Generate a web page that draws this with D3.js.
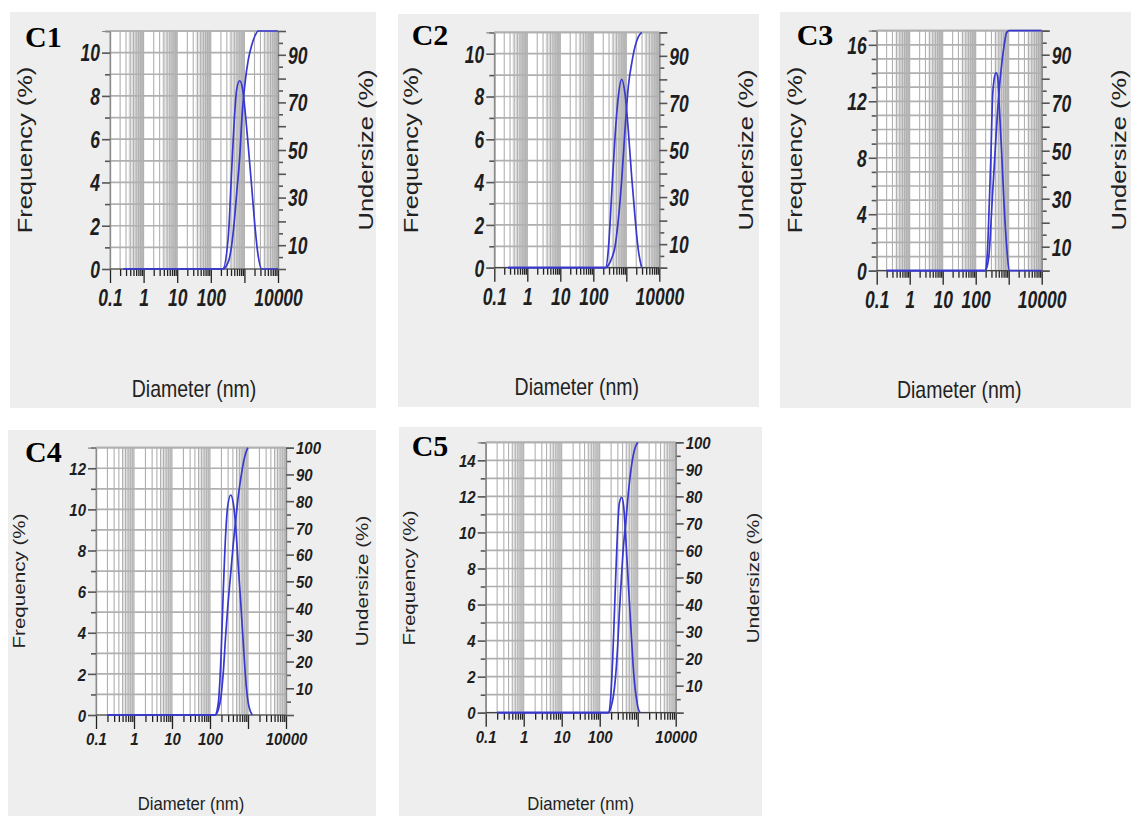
<!DOCTYPE html>
<html><head><meta charset="utf-8">
<script src="https://cdn.jsdelivr.net/npm/d3@7"></script>
<style>body{margin:0;background:#fff;} svg{display:block}</style>
</head><body><svg id="chart" width="1131" height="816"></svg>
<script>
// ---------------- data ----------------
const c1Diam  = [0.25, 226, 332, 419, 500, 590, 725, 866, 1042, 1306, 1649, 2067, 2593, 3273, 10000];
const c1Freq  = [0, 0, 1.5, 4.6, 6.9, 8.3, 8.7, 8.4, 7.35, 5.65, 3.8, 1.95, 0.57, 0, 0];
const c1Under = [0, 0, 3, 10, 20, 32, 47, 66, 78, 88, 94, 98, 100, 100, 100];

const c2Diam  = [0.26, 238, 285, 361, 455, 572, 726, 913, 1150, 1457, 1835, 2310, 2930];
const c2Freq  = [0, 0, 0.83, 3.47, 6.11, 7.98, 8.8, 8.13, 6.42, 4.24, 2.38, 0.83, 0];
const c2Under = [0, 0, 1, 4, 8.9, 20.3, 37.3, 58.5, 76.9, 86.8, 93.9, 98.1, 100];

const c3Diam  = [0.2, 191, 225, 258, 291, 318, 359, 412, 464, 519, 614, 721, 869, 1042, 10000];
const c3Freq  = [0, 0, 1.23, 4.77, 8.31, 11.86, 13.5, 14.02, 13.74, 11.61, 8.31, 4.77, 1.7, 0, 0];
const c3Under = [0, 0, 2, 8, 20, 30, 42, 56, 67, 76, 86, 93.5, 99.3, 100, 100];

const c4Diam  = [0.2, 135, 165, 195, 224, 259, 292, 351, 410, 475, 556, 654, 771, 902, 994, 1062, 1298];
const c4Freq  = [0, 0, 0.57, 2.84, 6.08, 8.84, 10.14, 10.7, 10.3, 9.16, 7.22, 5.27, 3.16, 1.38, 0.7, 0.4, 0];
const c4Under = [0, 0, 2, 7, 16, 30, 40, 53, 64, 73, 82, 89, 95, 98.6, 100, null, null];

const c5Diam  = [0.2, 168, 198, 228, 264, 298, 328, 379, 428, 483, 566, 667, 785, 849, 942, 1000, 1150];
const c5Freq  = [0, 0, 1.08, 3.85, 7.54, 10.32, 11.61, 11.95, 11.43, 9.76, 7.18, 4.59, 2.19, 1.4, 0.7, 0.35, 0];
const c5Under = [0, 0, 2, 5.9, 14, 25, 36.8, 51.6, 62.6, 70, 81.1, 90, 96, 97.8, 99.3, 100, null];

const xTickLabels = [0.1, 1, 10, 100, 10000];
const freqTicks11 = [0, 2, 4, 6, 8, 10];
const freqTicks17 = [0, 4, 8, 12, 16];
const freqTicks13 = [0, 2, 4, 6, 8, 10, 12];
const freqTicks15 = [0, 2, 4, 6, 8, 10, 12, 14];
const underTicksOdd = [10, 30, 50, 70, 90];
const underTicksAll = [10, 20, 30, 40, 50, 60, 70, 80, 90, 100];
const panelNames = ["C1", "C2", "C3", "C4", "C5"];
const xTitle = "Diameter (nm)", yTitle = "Frequency (%)", y2Title = "Undersize (%)";

// ---------------- layout ----------------
const big = {tick:17.5, tsy:1.32, title:19.5, titleSy:1.2, rot:20, rotSx:1.27, band:"gA", bandStart:3.5, xlab:37};
const small = {tick:15, tsy:1.15, title:16.7, titleSy:1.1, rot:16.5, rotSx:1.25, band:"gB", bandStart:5, xlab:30};
const panels = [
  {name:panelNames[0], box:[10,12,366,396], p:{l:110,r:278,t:31,b:269}, fmax:11, fTicks:freqTicks11, uTicks:underTicksOdd,
   diam:c1Diam, freq:c1Freq, under:c1Under, st:big, lab:[25,46.7], fx:32, ux:373, cy:150, dy:396.7},
  {name:panelNames[1], box:[398,14,361,393], p:{l:494.3,r:659.3,t:32.3,b:267.7}, fmax:11, fTicks:freqTicks11, uTicks:underTicksOdd,
   diam:c2Diam, freq:c2Freq, under:c2Under, st:big, lab:[411.7,45], fx:418, ux:753, cy:150, dy:395},
  {name:panelNames[2], box:[780,12,351,396], p:{l:876.7,r:1041.7,t:30.7,b:270.7}, fmax:17, fTicks:freqTicks17, uTicks:underTicksOdd,
   diam:c3Diam, freq:c3Freq, under:c3Under, st:big, lab:[796.7,45], fx:801.5, ux:1126, cy:150, dy:398},
  {name:panelNames[3], box:[8,430,368,386], p:{l:96,r:286,t:447.7,b:715}, fmax:13, fTicks:freqTicks13, uTicks:underTicksAll,
   diam:c4Diam, freq:c4Freq, under:c4Under, st:small, lab:[25,461.7], fx:25, ux:368, cy:581, dy:810},
  {name:panelNames[4], box:[399,427,363,389], p:{l:485.7,r:675.7,t:442.3,b:712.7}, fmax:15, fTicks:freqTicks15, uTicks:underTicksAll,
   diam:c5Diam, freq:c5Freq, under:c5Under, st:small, lab:[411.7,456], fx:415, ux:758.5, cy:578, dy:810}
];

const svg = d3.select("#chart");
svg.append("rect").attr("width",1131).attr("height",816).attr("fill","#fff");
const defs = svg.append("defs");
[["gA","#f0f0f0","#bdbdbd"],["gB","#ececec","#d0d0d0"]].forEach(([id,a,b])=>{
  const g = defs.append("linearGradient").attr("id",id).attr("x1",0).attr("x2",1).attr("y1",0).attr("y2",0);
  g.append("stop").attr("offset","0%").attr("stop-color",a);
  g.append("stop").attr("offset","100%").attr("stop-color",b);
});

const LINE = "#3838cf";
const GRID = "#b0b0b0";
const TICKFONT = "'Liberation Sans', Arial, sans-serif";

panels.forEach(P => {
  const g = svg.append("g");
  const {l,r,t,b} = P.p, st = P.st;
  g.append("rect").attr("x",P.box[0]).attr("y",P.box[1]).attr("width",P.box[2]).attr("height",P.box[3]).attr("fill","#eeeeee");

  const x = d3.scaleLog().domain([0.1,10000]).range([l,r]);
  const yF = d3.scaleLinear().domain([0,P.fmax]).range([b,t]);
  const yU = d3.scaleLinear().domain([0,100]).range([b,t]);

  g.append("rect").attr("x",l).attr("y",t).attr("width",r-l).attr("height",b-t).attr("fill","#fff");
  const decades = [0.1,1,10,100,1000];
  g.selectAll(".band").data(decades).join("rect")
    .attr("x",k=>x(st.bandStart*k)).attr("y",t)
    .attr("width",k=>x(10*k)-x(st.bandStart*k)).attr("height",b-t)
    .attr("fill",`url(#${st.band})`);

  const vgrid = [];
  decades.forEach(k=>{ for(let m=1;m<=9;m++) vgrid.push(m*k); });
  vgrid.push(10000);
  g.selectAll(".vg").data(vgrid).join("line")
    .attr("x1",d=>x(d)).attr("x2",d=>x(d)).attr("y1",t).attr("y2",b)
    .attr("stroke",GRID).attr("stroke-width",1.1);
  g.selectAll(".hg").data(d3.range(0,P.fmax+1)).join("line")
    .attr("x1",l).attr("x2",r).attr("y1",d=>yF(d)).attr("y2",d=>yF(d))
    .attr("stroke",GRID).attr("stroke-width",1.7);

  // x axis ticks
  const majors = [0.1,1,10,100,1000,10000];
  const minors = vgrid.filter(d => !majors.includes(d));
  const xMinor = g.append("g").attr("transform",`translate(0,${b})`)
    .call(d3.axisBottom(x).tickValues(minors).tickSize(7).tickFormat(""));
  const xMajor = g.append("g").attr("transform",`translate(0,${b})`)
    .call(d3.axisBottom(x).tickValues(majors).tickSize(14)
      .tickFormat(d => xTickLabels.includes(d) ? String(d) : ""));
  [xMinor,xMajor].forEach(a=>{
    a.select(".domain").remove();
    a.selectAll("line").attr("stroke","#222").attr("stroke-width",1.3);
  });
  xMajor.selectAll("text").attr("y",0).attr("dy",0)
    .attr("transform",`translate(0,${st.xlab}) scale(1,${st.tsy})`)
    .attr("font-family",TICKFONT).attr("font-size",st.tick).attr("font-style","italic").attr("font-weight","bold").attr("fill","#1e1e1e");

  // left axis
  const fMinor = d3.range(0,P.fmax+1).filter(d=>!P.fTicks.includes(d));
  const lMinor = g.append("g").attr("transform",`translate(${l},0)`)
    .call(d3.axisLeft(yF).tickValues(fMinor).tickSize(5).tickFormat(""));
  const lMajor = g.append("g").attr("transform",`translate(${l},0)`)
    .call(d3.axisLeft(yF).tickValues(P.fTicks).tickSize(8).tickPadding(2));
  [lMinor,lMajor].forEach(a=>{
    a.select(".domain").attr("stroke","#8a8a8a").attr("stroke-width",1.2);
    a.selectAll("line").attr("stroke","#555").attr("stroke-width",1.6);
  });
  lMajor.selectAll("text").attr("dy","0.36em").attr("transform",`scale(1,${st.tsy})`)
    .attr("font-family",TICKFONT).attr("font-size",st.tick).attr("font-style","italic").attr("font-weight","bold").attr("fill","#1e1e1e");

  // right axis
  const uAll = d3.range(0,101,5);
  const uMinor = uAll.filter(d=>d%10!==0);
  const uMajor = uAll.filter(d=>d%10===0);
  const rMinor = g.append("g").attr("transform",`translate(${r},0)`)
    .call(d3.axisRight(yU).tickValues(uMinor).tickSize(5).tickFormat(""));
  const rMajor = g.append("g").attr("transform",`translate(${r},0)`)
    .call(d3.axisRight(yU).tickValues(uMajor).tickSize(8).tickPadding(2)
      .tickFormat(d => P.uTicks.includes(d) ? String(d) : ""));
  [rMinor,rMajor].forEach(a=>{
    a.select(".domain").attr("stroke","#8a8a8a").attr("stroke-width",1.2);
    a.selectAll("line").attr("stroke","#555").attr("stroke-width",1.6);
  });
  rMajor.selectAll("text").attr("dy","0.36em").attr("transform",`scale(1,${st.tsy})`)
    .attr("font-family",TICKFONT).attr("font-size",st.tick).attr("font-style","italic").attr("font-weight","bold").attr("fill","#1e1e1e");

  // top border & bottom axis line
  g.append("line").attr("x1",l).attr("x2",r).attr("y1",t).attr("y2",t).attr("stroke",GRID).attr("stroke-width",1.7);
  g.append("line").attr("x1",l).attr("x2",r).attr("y1",b).attr("y2",b).attr("stroke","#444").attr("stroke-width",1.2);

  // curves
  const rows = P.diam.map((d,i)=>({d, f:P.freq[i], u:P.under[i]}));
  const fLine = d3.line().x(d=>x(d.d)).y(d=>yF(d.f)).curve(d3.curveMonotoneX);
  const uLine = d3.line().defined(d=>d.u!=null).x(d=>x(d.d)).y(d=>yU(d.u)).curve(d3.curveMonotoneX);
  g.append("path").attr("d",fLine(rows)).attr("fill","none").attr("stroke",LINE).attr("stroke-width",1.7);
  g.append("path").attr("d",uLine(rows)).attr("fill","none").attr("stroke",LINE).attr("stroke-width",1.7);

  // titles
  g.append("text").attr("transform",`translate(${(l+r)/2},${P.dy}) scale(1,${st.titleSy})`)
    .attr("text-anchor","middle").attr("font-family","'Liberation Sans', Arial, sans-serif")
    .attr("font-size",st.title).attr("fill","#222").text(xTitle);
  g.append("text").attr("transform",`translate(${P.fx},${P.cy}) rotate(-90) scale(${st.rotSx},1)`)
    .attr("text-anchor","middle").attr("font-family","'Liberation Sans', Arial, sans-serif")
    .attr("font-size",st.rot).attr("fill","#222").text(yTitle);
  g.append("text").attr("transform",`translate(${P.ux},${P.cy}) rotate(-90) scale(${st.rotSx},1)`)
    .attr("text-anchor","middle").attr("font-family","'Liberation Sans', Arial, sans-serif")
    .attr("font-size",st.rot).attr("fill","#222").text(y2Title);
  g.append("text").attr("x",P.lab[0]).attr("y",P.lab[1])
    .attr("font-family","'Liberation Serif', 'Times New Roman', serif").attr("font-weight","bold")
    .attr("font-size",30).attr("fill","#000").text(P.name);
});
</script>
</body></html>
